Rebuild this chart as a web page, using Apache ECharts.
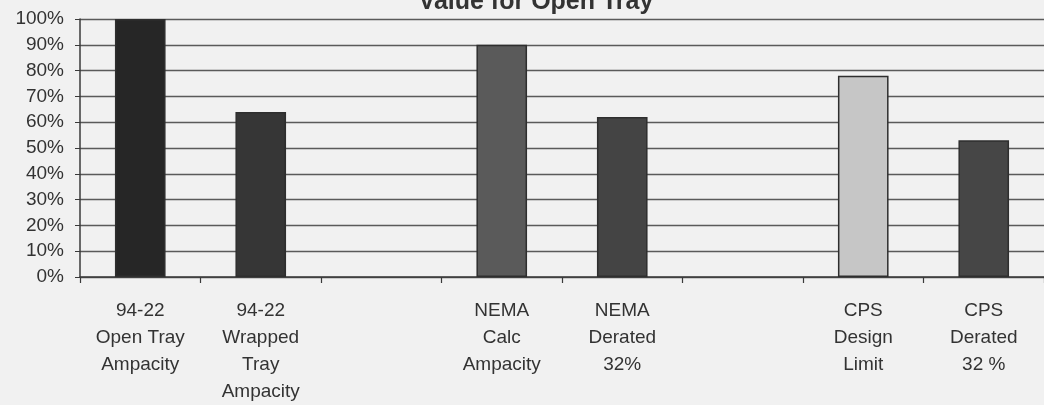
<!DOCTYPE html>
<html>
<head>
<meta charset="utf-8">
<script src="https://cdn.jsdelivr.net/npm/echarts@6/dist/echarts.min.js"></script>
<style>
html,body{margin:0;padding:0;background:#f1f1f1;}
#c{width:1044px;height:405px;}
</style>
</head>
<body>
<div id="c"></div>
<script>
const titleText = "Value for Open Tray";
const categories = [
  "94-22\nOpen Tray\nAmpacity",
  "94-22\nWrapped\nTray\nAmpacity",
  "",
  "NEMA\nCalc\nAmpacity",
  "NEMA\nDerated\n32%",
  "",
  "CPS\nDesign\nLimit",
  "CPS\nDerated\n32 %"
];
const values = [100, 64, null, 90, 62, null, 78, 53];
const barColors = ["#262626", "#363636", null, "#5a5a5a", "#444444", null, "#c6c6c6", "#464646"];
const yTicks = [0, 10, 20, 30, 40, 50, 60, 70, 80, 90, 100];

const chart = echarts.init(document.getElementById('c'), null, {renderer: 'canvas'});
chart.setOption({
  backgroundColor: '#f1f1f1',
  animation: false,
  title: {
    text: titleText,
    left: 531,
    textAlign: 'center',
    top: -15,
    textStyle: {fontFamily: 'Liberation Sans, Arial', fontSize: 25, fontWeight: 'bold', color: '#333'}
  },
  grid: {left: 80, right: -6, top: 19, bottom: 128, containLabel: false},
  xAxis: {
    type: 'category',
    data: categories,
    axisLine: {lineStyle: {color: '#3a3a3a', width: 1.5}},
    axisTick: {show: true, alignWithLabel: false, length: 6, lineStyle: {color: '#3a3a3a', width: 1.2}},
    axisLabel: {
      interval: 0, margin: 20,
      fontFamily: 'Liberation Sans, Arial', fontSize: 19, lineHeight: 27, color: '#333'
    }
  },
  yAxis: {
    type: 'value',
    min: yTicks[0], max: yTicks[yTicks.length - 1], interval: 10,
    axisLine: {show: true, lineStyle: {color: '#3a3a3a', width: 1.5}},
    axisTick: {show: true, length: 5, lineStyle: {color: '#3a3a3a'}},
    splitLine: {lineStyle: {color: '#5a5a5a', width: 1.4}},
    axisLabel: {
      margin: 16, formatter: '{value}%',
      fontFamily: 'Liberation Sans, Arial', fontSize: 19, color: '#333'
    }
  },
  series: [{
    type: 'bar',
    barWidth: '42%',
    data: values.map((v, i) => v == null ? null : ({
      value: v,
      itemStyle: {color: barColors[i], borderColor: '#2e2e2e', borderWidth: 1.5}
    }))
  }]
});
</script>
</body>
</html>
